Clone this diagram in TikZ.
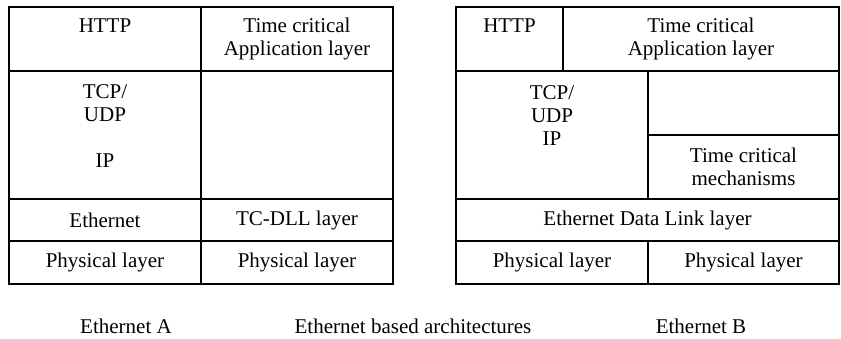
\documentclass[tikz,border=0pt]{standalone}
\usepackage{fontspec}
\setmainfont{Liberation Serif}

\begin{document}
\begin{tikzpicture}[x=1pt,y=-1pt,inner sep=0pt,outer sep=0pt,
font=\fontsize{21}{23}\selectfont,
layer/.style={draw,rectangle,inner sep=0pt,line width=1.6pt,align=center},
caption/.style={anchor=base}]

\useasboundingbox (0,0) rectangle (841,339);

% Ethernet A
\draw (105,39) node[layer,minimum width=192,minimum height=64] (httpA) {HTTP\\\vphantom{Ap}};
\draw (297,39) node[layer,minimum width=192,minimum height=64] (appA) {Time critical\\Application layer};
\draw (105,135) node[layer,minimum width=192,minimum height=128] (tcpA) {};
\draw (297,135) node[layer,minimum width=192,minimum height=128] (freeA) {};
\draw (105,220) node[layer,minimum width=192,minimum height=42] (ethA) {Ethernet};
\draw (297,220) node[layer,minimum width=192,minimum height=42] (dllA) {TC-DLL layer};
\draw (105,262.5) node[layer,minimum width=192,minimum height=43] (phyA) {Physical layer};
\draw (297,262.5) node[layer,minimum width=192,minimum height=43] (phyAtc) {Physical layer};
\draw (tcpA.north) ++(0,14) node[anchor=north,align=center] (ipA) {TCP/\\UDP\\[23pt]IP};

% Ethernet B
\draw (509.5,39) node[layer,minimum width=107,minimum height=64] (httpB) {HTTP\\\vphantom{Ap}};
\draw (701,39) node[layer,minimum width=276,minimum height=64] (appB) {Time critical\\Application layer};
\draw (552,135) node[layer,minimum width=192,minimum height=128] (tcpB) {};
\draw (743.5,103) node[layer,minimum width=191,minimum height=64] (freeB) {};
\draw (743.5,167) node[layer,minimum width=191,minimum height=64] (mechB) {Time critical\\mechanisms};
\draw (647.5,220) node[layer,minimum width=383,minimum height=42] (dllB) {Ethernet Data Link layer};
\draw (552,262.5) node[layer,minimum width=192,minimum height=43] (phyB) {Physical layer};
\draw (743.5,262.5) node[layer,minimum width=191,minimum height=43] (phyBtc) {Physical layer};
\draw (tcpB.north) ++(0,15) node[anchor=north,align=center] (ipB) {TCP/\\UDP\\IP};

% captions
\draw (126,333) node[caption] (capA) {Ethernet A};
\draw (413,333) node[caption] (capAll) {Ethernet based architectures};
\draw (701,333) node[caption] (capB) {Ethernet B};

\end{tikzpicture}
\end{document}
